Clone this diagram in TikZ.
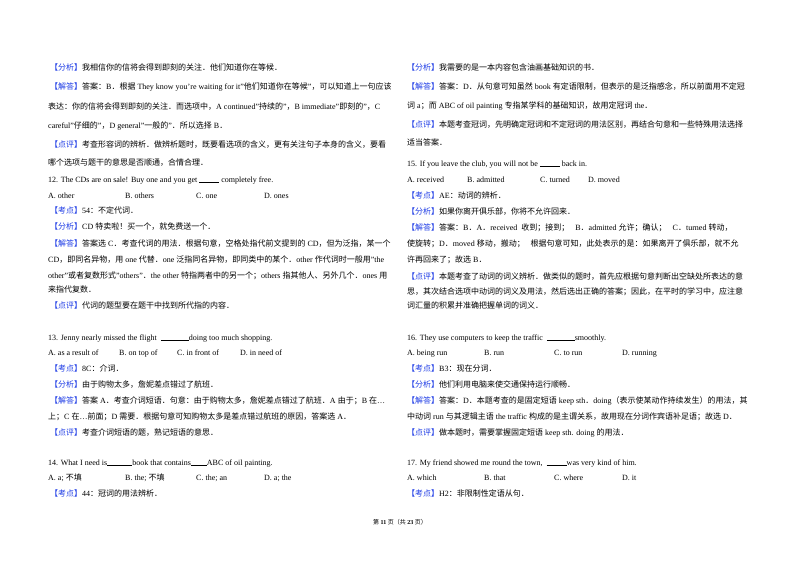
\documentclass[tikz,border=0pt]{standalone}
\usepackage{fontspec}
\setmainfont{Liberation Serif}
\newfontfamily\cjk{Noto Sans CJK SC}
\XeTeXinterchartokenstate=1
\newXeTeXintercharclass\cjkclass
\count255="4E00 \loop\XeTeXcharclass\count255=\cjkclass\advance\count255 1 \ifnum\count255<"A000 \repeat
\count255="3000 \loop\XeTeXcharclass\count255=\cjkclass\advance\count255 1 \ifnum\count255<"3040 \repeat
\count255="FF00 \loop\XeTeXcharclass\count255=\cjkclass\advance\count255 1 \ifnum\count255<"FFF0 \repeat
\XeTeXinterchartoks 0 \cjkclass = {\cjk}
\XeTeXinterchartoks 4095 \cjkclass = {\cjk}
\XeTeXinterchartoks \cjkclass 0 = {\rmfamily}
\XeTeXinterchartoks \cjkclass 4095 = {\rmfamily}
\definecolor{tagblue}{RGB}{30,60,230}
\newcommand\tg[1]{{\color{tagblue}【#1】}}
\newcommand\bl[1]{\rule[-0.5pt]{#1pt}{0.5pt}}
\begin{document}
\begin{tikzpicture}[x=1pt,y=-1pt,
  lt/.style={anchor=base west,inner sep=0,font=\fontsize{8}{10}\selectfont}]
\useasboundingbox[fill=white] (0,0) rectangle (800,565);
% left column
\node[lt] (a1) at (50,70) {\tg{分析}我相信你的信将会得到即刻的关注．他们知道你在等候．};
\node[lt] (a2) at (50,89) {\tg{解答}答案：B．根据 They know you're waiting for it"他们知道你在等候"，可以知道上一句应该};
\node[lt] (a3) at (48,109) {表达：你的信将会得到即刻的关注．而选项中，A continued"持续的"，B immediate"即刻的"，C};
\node[lt] (a4) at (48,128) {careful"仔细的"，D general"一般的"．所以选择 B．};
\node[lt] (a5) at (50,147) {\tg{点评}考查形容词的辨析．做辨析题时，既要看选项的含义，更有关注句子本身的含义，要看};
\node[lt] (a6) at (48,165) {哪个选项与题干的意思是否顺通，合情合理．};
\node[lt] (b1) at (48,182) {12. The CDs are on sale! Buy one and you get \bl{20} completely free.};
\node[lt] (b2) at (48,198) {A. other};
\node[lt] (b3) at (125,198) {B. others};
\node[lt] (b4) at (196,198) {C. one};
\node[lt] (b5) at (264,198) {D. ones};
\node[lt] (b6) at (50,213) {\tg{考点}54：不定代词．};
\node[lt] (b7) at (50,229) {\tg{分析}CD 特卖啦！买一个，就免费送一个．};
\node[lt] (b8) at (50,246) {\tg{解答}答案选 C．考查代词的用法．根据句意，空格处指代前文提到的 CD，但为泛指，某一个};
\node[lt] (b9) at (48,262) {CD，即同名异物，用 one 代替．one 泛指同名异物，即同类中的某个．other 作代词时一般用"the};
\node[lt] (b10) at (48,278) {other"或者复数形式"others"．the other 特指两者中的另一个；others 指其他人、另外几个．ones 用};
\node[lt] (b11) at (48,292) {来指代复数．};
\node[lt] (b12) at (50,308) {\tg{点评}代词的题型要在题干中找到所代指的内容．};
\node[lt] (c1) at (48,340) {13. Jenny nearly missed the flight \ \bl{28}doing too much shopping.};
\node[lt] (c2) at (48,355) {A. as a result of};
\node[lt] (c3) at (119,355) {B. on top of};
\node[lt] (c4) at (177,355) {C. in front of};
\node[lt] (c5) at (240,355) {D. in need of};
\node[lt] (c6) at (50,371) {\tg{考点}8C：介词．};
\node[lt] (c7) at (50,387) {\tg{分析}由于购物太多，詹妮差点错过了航班．};
\node[lt] (c8) at (50,403) {\tg{解答}答案 A．考查介词短语．句意：由于购物太多，詹妮差点错过了航班．A 由于；B 在…};
\node[lt] (c9) at (48,419) {上；C 在…前面；D 需要．根据句意可知购物太多是差点错过航班的原因，答案选 A．};
\node[lt] (c10) at (50,435) {\tg{点评}考查介词短语的题，熟记短语的意思．};
\node[lt] (d1) at (48,465) {14. What I need is\bl{25}book that contains\bl{16}ABC of oil painting.};
\node[lt] (d2) at (48,480) {A. a; 不填};
\node[lt] (d3) at (125,480) {B. the; 不填};
\node[lt] (d4) at (196,480) {C. the; an};
\node[lt] (d5) at (264,480) {D. a; the};
\node[lt] (d6) at (50,496) {\tg{考点}44：冠词的用法辨析．};
% right column
\node[lt] (e1) at (407,70) {\tg{分析}我需要的是一本内容包含油画基础知识的书．};
\node[lt] (e2) at (407,89) {\tg{解答}答案：D．从句意可知虽然 book 有定语限制，但表示的是泛指感念，所以前面用不定冠};
\node[lt] (e3) at (407,108) {词 a；而 ABC of oil painting 专指某学科的基础知识，故用定冠词 the．};
\node[lt] (e4) at (407,127) {\tg{点评}本题考查冠词，先明确定冠词和不定冠词的用法区别，再结合句意和一些特殊用法选择};
\node[lt] (e5) at (407,145) {适当答案．};
\node[lt] (f1) at (407,166) {15. If you leave the club, you will not be \bl{20} back in.};
\node[lt] (f2) at (407,182) {A. received};
\node[lt] (f3) at (467,182) {B. admitted};
\node[lt] (f4) at (540,182) {C. turned};
\node[lt] (f5) at (588,182) {D. moved};
\node[lt] (f6) at (407,198) {\tg{考点}AE：动词的辨析．};
\node[lt] (f7) at (407,214) {\tg{分析}如果你离开俱乐部，你将不允许回来．};
\node[lt] (f8) at (407,230) {\tg{解答}答案：B．A．received\ \ 收到；接到；\ \ \ B．admitted\ 允许；确认；\ \ \ C．turned 转动，};
\node[lt] (f9) at (407,246) {使旋转；D．moved\ 移动，搬动；\ \ \ 根据句意可知，此处表示的是：如果离开了俱乐部，就不允};
\node[lt] (f10) at (407,262) {许再回来了；故选 B．};
\node[lt] (f11) at (407,279) {\tg{点评}本题考查了动词的词义辨析．做类似的题时，首先应根据句意判断出空缺处所表达的意};
\node[lt] (f12) at (407,294) {思，其次结合选项中动词的词义及用法，然后选出正确的答案；因此，在平时的学习中，应注意};
\node[lt] (f13) at (407,308) {词汇量的积累并准确把握单词的词义．};
\node[lt] (g1) at (407,340) {16. They use computers to keep the traffic \ \bl{28}smoothly.};
\node[lt] (g2) at (407,355) {A. being run};
\node[lt] (g3) at (484,355) {B. run};
\node[lt] (g4) at (554,355) {C. to run};
\node[lt] (g5) at (622,355) {D. running};
\node[lt] (g6) at (407,371) {\tg{考点}B3：现在分词．};
\node[lt] (g7) at (407,387) {\tg{分析}他们利用电脑来使交通保持运行顺畅．};
\node[lt] (g8) at (407,403) {\tg{解答}答案：D．本题考查的是固定短语 keep sth．doing（表示使某动作持续发生）的用法，其};
\node[lt] (g9) at (407,419) {中动词 run 与其逻辑主语 the traffic 构成的是主谓关系，故用现在分词作宾语补足语；故选 D．};
\node[lt] (g10) at (407,435) {\tg{点评}做本题时，需要掌握固定短语 keep sth. doing 的用法．};
\node[lt] (h1) at (407,465) {17. My friend showed me round the town, \ \bl{20}was very kind of him.};
\node[lt] (h2) at (407,480) {A. which};
\node[lt] (h3) at (484,480) {B. that};
\node[lt] (h4) at (554,480) {C. where};
\node[lt] (h5) at (622,480) {D. it};
\node[lt] (h6) at (407,496) {\tg{考点}H2：非限制性定语从句．};
% footer
\node[anchor=base,inner sep=0,font=\fontsize{6}{7}\selectfont] (ft) at (400,524) {第 \textbf{11} 页（共 \textbf{23} 页）};
\end{tikzpicture}
\end{document}
